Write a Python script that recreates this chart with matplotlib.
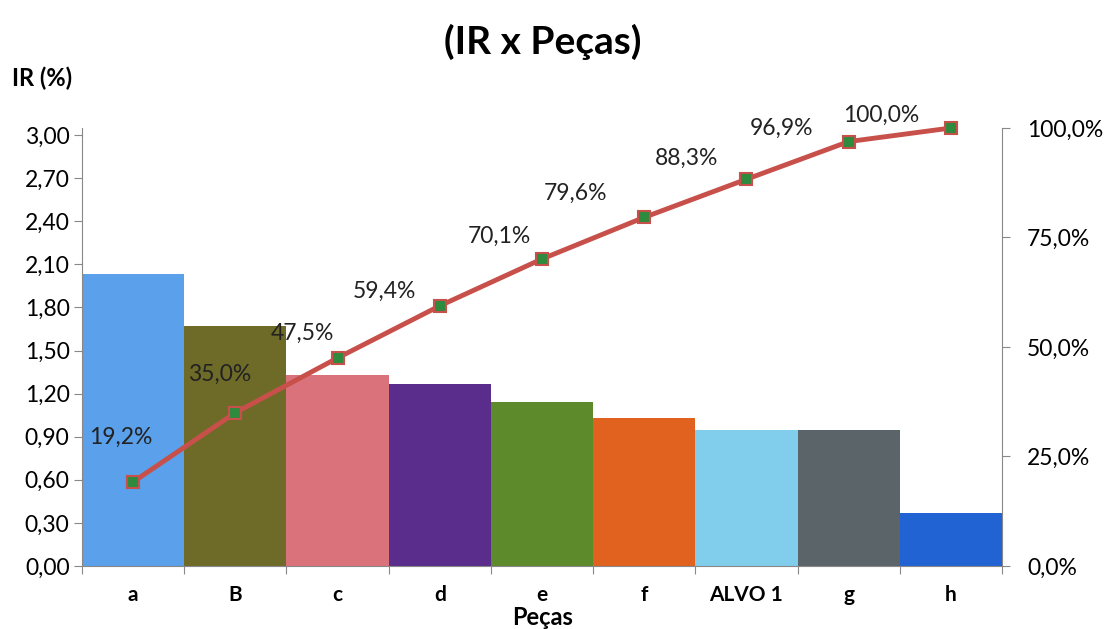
import matplotlib.pyplot as plt
import numpy as np
from matplotlib.ticker import FixedLocator, FuncFormatter

plt.rcParams['font.family'] = ['Lato', 'DejaVu Sans']

pecas = ['a', 'B', 'c', 'd', 'e', 'f', 'ALVO 1', 'g', 'h']
ir = [2.03, 1.67, 1.33, 1.27, 1.14, 1.03, 0.95, 0.95, 0.37]
acumulado = [19.2, 35.0, 47.5, 59.4, 70.1, 79.6, 88.3, 96.9, 100.0]

cores = ['#5aa0ea', '#6e6b28', '#d9727a', '#5a2d8c', '#5d8a2a',
         '#e0621e', '#80cdec', '#5b6569', '#2163d3']
# where each percentage label sits relative to its point (pixels)
label_offsets = [(-12, 45), (-16, 38), (-35, 25), (-55, 14), (-43, 23),
                 (-69, 24), (-60, 21), (-67, 13), (-70, 13)]

fig = plt.figure(figsize=(11.1, 6.29), dpi=100)
ax = fig.add_axes([0.0739, 0.1002, 0.8288, 0.6963])
ax2 = ax.twinx()

x = np.arange(len(pecas))
ax.bar(x, ir, width=1.0, color=cores, zorder=2)
ax.set_xlim(-0.5, len(pecas) - 0.5)
ax.set_ylim(0, 3.049)
ax.set_yticks(np.arange(0, 3.01, 0.30))
ax.yaxis.set_major_formatter(FuncFormatter(lambda v, p: f'{v:.2f}'.replace('.', ',')))

# ticks between categories, labels centred under the bars
ax.xaxis.set_major_locator(FixedLocator(np.arange(-0.5, len(pecas), 1.0)))
ax.xaxis.set_minor_locator(FixedLocator(x))
ax.set_xticklabels([])
ax.set_xticklabels(pecas, minor=True, fontweight='bold', fontsize=15)
ax.tick_params(axis='x', which='minor', length=0, pad=14)
ax.tick_params(axis='x', which='major', length=6, color='#888888')
ax.tick_params(axis='y', length=6, color='#888888', labelsize=16.5, pad=3)

ax2.plot(x, [v / 100 for v in acumulado], color='#c8504a', lw=3.5,
         marker='s', ms=8, mfc='#2e8b3e', mec='#c8504a', mew=1.5,
         zorder=3, clip_on=False)
ax2.set_ylim(0, 1.0)
ax2.set_yticks([0, 0.25, 0.5, 0.75, 1.0])
ax2.yaxis.set_major_formatter(FuncFormatter(lambda v, p: f'{v*100:.1f}%'.replace('.', ',')))
ax2.tick_params(axis='y', length=6, color='#888888', labelsize=16.5, pad=12)

for xi, v, (dx, dy) in zip(x, acumulado, label_offsets):
    ax2.annotate(f'{v:.1f}%'.replace('.', ','), (xi, v / 100),
                 xytext=(dx * 0.72, dy * 0.72), textcoords='offset points',
                 ha='center', va='center', fontsize=16.5, color='#222222')

for a in (ax, ax2):
    a.spines['top'].set_visible(False)
    for s in ('left', 'right', 'bottom'):
        a.spines[s].set_color('#888888')
ax.spines['right'].set_visible(False)
ax2.spines['left'].set_visible(False)
ax2.spines['bottom'].set_visible(False)

fig.text(0.489, 0.933, '(IR x Peças)', ha='center', va='center',
         fontsize=28, fontweight='bold')
fig.text(0.011, 0.876, 'IR (%)', ha='left', va='center',
         fontsize=17, fontweight='bold')
fig.text(0.489, 0.018, 'Peças', ha='center', va='center',
         fontsize=17, fontweight='bold')

fig.savefig('out.png', dpi=100)
